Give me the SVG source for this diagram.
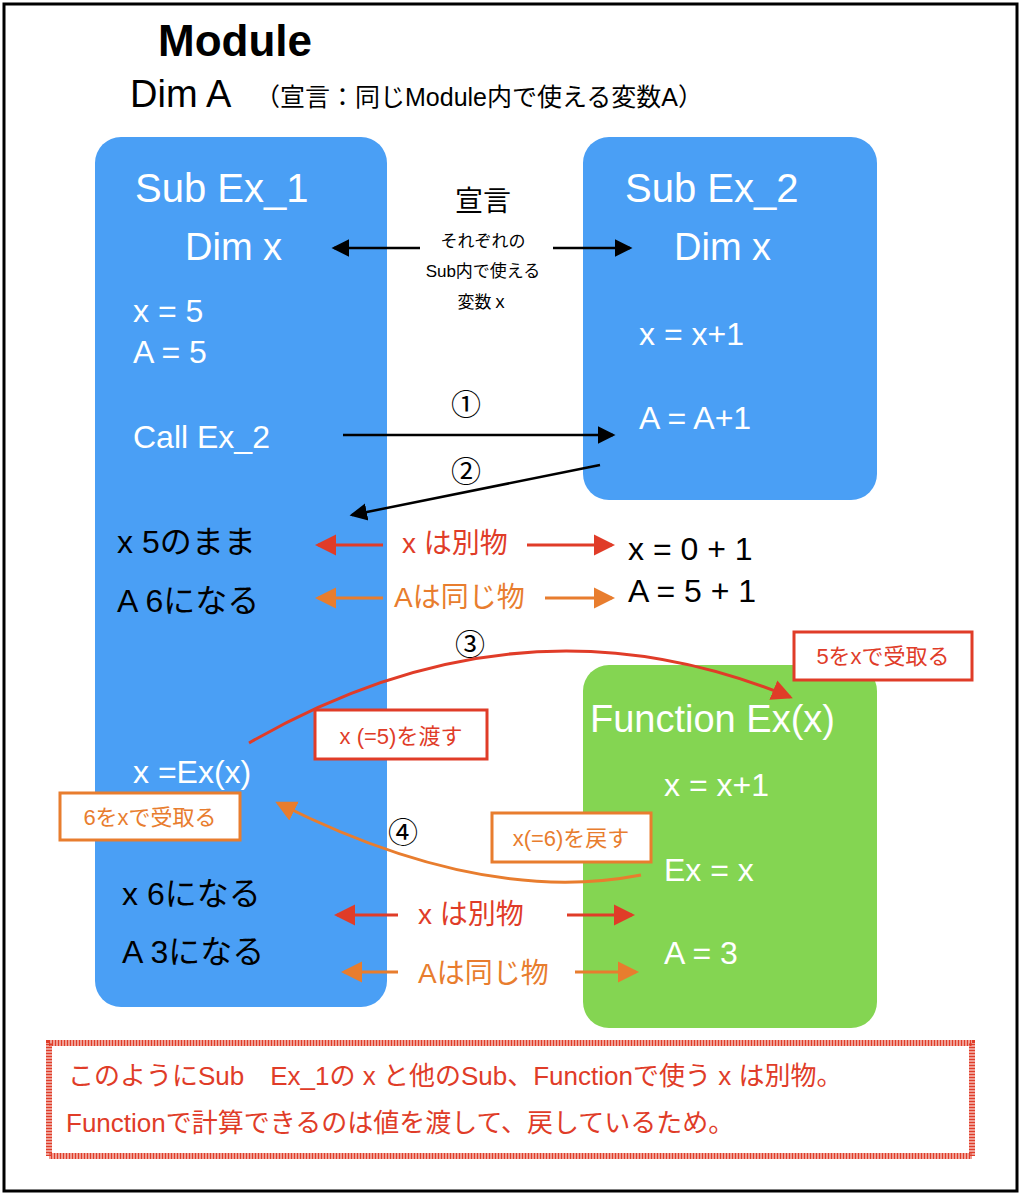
<svg xmlns="http://www.w3.org/2000/svg" width="1022" height="1196" viewBox="0 0 1022 1196">
<style>
text{font-family:"Liberation Sans","Noto Sans CJK JP",sans-serif}
.w{fill:#fff}.k{fill:#000}.r{fill:#E03C28}.o{fill:#E87D2E}
.lk{stroke:#000;stroke-width:2.5;fill:none}
.lr{stroke:#E03C28;stroke-width:3;fill:none}
.lo{stroke:#E87D2E;stroke-width:3;fill:none}
</style>
<defs>
<marker id="ak" markerWidth="8" markerHeight="8" refX="6" refY="4" orient="auto" markerUnits="strokeWidth"><path d="M0,0.5 L7,4 L0,7.5z" fill="#000"/></marker>
<marker id="ar" markerWidth="8" markerHeight="8" refX="6" refY="4" orient="auto" markerUnits="strokeWidth"><path d="M0,0.5 L7,4 L0,7.5z" fill="#E03C28"/></marker>
<marker id="ao" markerWidth="8" markerHeight="8" refX="6" refY="4" orient="auto" markerUnits="strokeWidth"><path d="M0,0.5 L7,4 L0,7.5z" fill="#E87D2E"/></marker>
</defs>
<rect width="1022" height="1196" fill="#fff"/>
<rect x="4" y="4" width="1013" height="1187" fill="none" stroke="#000" stroke-width="3"/>
<g id="title">
<text x="158" y="56" font-size="44" font-weight="bold">Module</text>
<text x="130" y="107" font-size="38">Dim A</text>
<text x="255" y="106" font-size="25">（宣言：同じModule内で使える変数A）</text>
</g>
<g id="ex1">
<rect x="95" y="137" width="292" height="870" rx="26" fill="#4A9FF5"/>
<text x="135" y="202" font-size="40" class="w">Sub  Ex_1</text>
<text x="185" y="260" font-size="38" class="w">Dim x</text>
<text x="133" y="322" font-size="32" class="w">x = 5</text>
<text x="133" y="363" font-size="32" class="w">A = 5</text>
<text x="133" y="448" font-size="32" class="w">Call Ex_2</text>
<text x="117" y="553" font-size="32" class="k">x    5のまま</text>
<text x="117" y="612" font-size="32" class="k">A   6になる</text>
<text x="133" y="783" font-size="32" class="w">x =Ex(x)</text>
<text x="122" y="905" font-size="32" class="k">x    6になる</text>
<text x="122" y="963" font-size="32" class="k">A   3になる</text>
</g>
<g id="ex2">
<rect x="583" y="137" width="294" height="363" rx="26" fill="#4A9FF5"/>
<text x="625" y="202" font-size="40" class="w">Sub  Ex_2</text>
<text x="674" y="260" font-size="38" class="w">Dim x</text>
<text x="639" y="345" font-size="32" class="w">x = x+1</text>
<text x="639" y="429" font-size="32" class="w">A = A+1</text>
</g>
<g id="func">
<rect x="583" y="665" width="294" height="363" rx="26" fill="#84D552"/>
<text x="590" y="732" font-size="38" class="w">Function Ex(x)</text>
<text x="664" y="796" font-size="32" class="w">x = x+1</text>
<text x="664" y="881" font-size="32" class="w">Ex = x</text>
<text x="664" y="964" font-size="32" class="w">A = 3</text>
</g>
<g id="labels">
<text x="483" y="211" font-size="28" text-anchor="middle">宣言</text>
<text x="483" y="247" font-size="17" text-anchor="middle">それぞれの</text>
<text x="483" y="277" font-size="17" text-anchor="middle">Sub内で使える</text>
<text x="483" y="308" font-size="17" text-anchor="middle">変数ｘ</text>
<text x="466" y="415" font-size="30" text-anchor="middle">①</text>
<text x="466" y="482" font-size="30" text-anchor="middle">②</text>
<text x="470" y="655" font-size="30" text-anchor="middle">③</text>
<text x="403" y="843" font-size="30" text-anchor="middle">④</text>
<text x="402" y="553" font-size="28" class="r">x は別物</text>
<text x="394" y="607" font-size="28" class="o">Aは同じ物</text>
<text x="628" y="560" font-size="32" class="k">x = 0 + 1</text>
<text x="628" y="602" font-size="32" class="k">A = 5 + 1</text>
<text x="418" y="924" font-size="28" class="r">x は別物</text>
<text x="418" y="983" font-size="28" class="o">Aは同じ物</text>
</g>
<g id="boxes">
<rect x="794" y="632" width="178" height="48" fill="#fff" stroke="#E03C28" stroke-width="3"/>
<text x="883" y="664" font-size="22" class="r" text-anchor="middle">5をxで受取る</text>
<rect x="315" y="710" width="172" height="49" fill="#fff" stroke="#E03C28" stroke-width="3"/>
<text x="401" y="744" font-size="22" class="r" text-anchor="middle">x (=5)を渡す</text>
<rect x="60" y="793" width="180" height="47" fill="#fff" stroke="#E87D2E" stroke-width="3"/>
<text x="150" y="825" font-size="22" class="o" text-anchor="middle">6をxで受取る</text>
<rect x="492" y="813" width="159" height="49" fill="#fff" stroke="#E87D2E" stroke-width="3"/>
<text x="571" y="846" font-size="22" class="o" text-anchor="middle">x(=6)を戻す</text>
</g>
<g id="note">
<rect x="49" y="1043" width="923" height="113" fill="#fff" stroke="#E03C28" stroke-width="6" stroke-dasharray="1 0.5"/>
<text x="68" y="1085" font-size="26" class="r">このようにSub　Ex_1の x と他のSub、Functionで使う x は別物。</text>
<text x="66" y="1132" font-size="26" class="r">Functionで計算できるのは値を渡して、戻しているため。</text>
</g>
<g id="connectors">
<line x1="420" y1="248" x2="334" y2="248" class="lk" marker-end="url(#ak)"/>
<line x1="553" y1="248" x2="630" y2="248" class="lk" marker-end="url(#ak)"/>
<line x1="343" y1="435" x2="613" y2="435" class="lk" marker-end="url(#ak)"/>
<line x1="600" y1="465" x2="352" y2="515" class="lk" marker-end="url(#ak)"/>
<line x1="383" y1="545" x2="318" y2="545" class="lr" marker-end="url(#ar)"/>
<line x1="527" y1="545" x2="612" y2="545" class="lr" marker-end="url(#ar)"/>
<line x1="383" y1="598" x2="318" y2="598" class="lo" marker-end="url(#ao)"/>
<line x1="545" y1="598" x2="612" y2="598" class="lo" marker-end="url(#ao)"/>
<line x1="398" y1="915" x2="337" y2="915" class="lr" marker-end="url(#ar)"/>
<line x1="567" y1="915" x2="632" y2="915" class="lr" marker-end="url(#ar)"/>
<line x1="398" y1="972" x2="344" y2="972" class="lo" marker-end="url(#ao)"/>
<line x1="575" y1="972" x2="636" y2="972" class="lo" marker-end="url(#ao)"/>
<path d="M249,743 Q520,586 790,697" class="lr" marker-end="url(#ar)"/>
<path d="M641,875 Q482,906 278,803" class="lo" marker-end="url(#ao)"/>
</g>
</svg>
